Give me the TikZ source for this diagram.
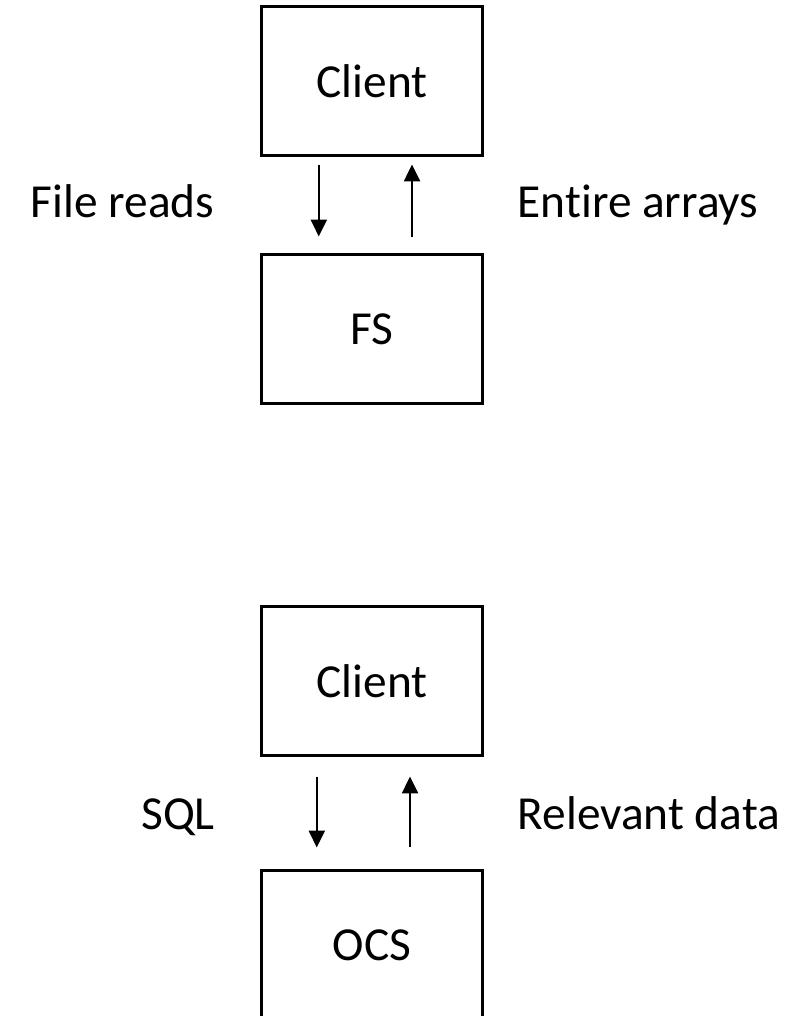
\documentclass[tikz,border=0pt]{standalone}
\usepackage{fontspec}
\setmainfont{Carlito}[Ligatures=NoCommon]
\usetikzlibrary{arrows.meta,positioning}
\tikzset{
  tierbox/.style={draw,line width=.075cm,minimum width=5.5cm,minimum height=3.7cm,
    font=\fontsize{33.7}{40}\selectfont},
  flowlabel/.style={anchor=base west,inner sep=0pt,font=\fontsize{33.7}{40}\selectfont},
  flow/.style={line width=.05cm,-{Triangle[length=.42cm,width=.4cm]}}
}

\begin{document}
\begin{tikzpicture}[x=.025cm,y=-.025cm]
    \useasboundingbox (0,0) rectangle (796,1016);
    % file system setup
    \node[tierbox] (clientA) at (372,81) {Client};
    \node[tierbox] (fsA) at (372,329) {FS};
    \draw[flow,shorten <=.2cm,shorten >=.425cm]
      ([xshift=-1.33cm]clientA.south) -- ([xshift=-1.33cm]fsA.north);
    \draw[flow,shorten <=.4cm,shorten >=.2cm]
      ([xshift=1cm]fsA.north) -- ([xshift=1cm]clientA.south);
    \node[flowlabel] (readsA) at (30.5,218) {File reads};
    \node[flowlabel] (replyA) at (517.5,218) {Entire arrays};
    % object store setup
    \node[tierbox] (clientB) at (372,681) {Client};
    \node[tierbox] (ocsB) at (372,945) {OCS};
    \draw[flow,shorten <=.5cm,shorten >=.55cm]
      ([xshift=-1.38cm]clientB.south) -- ([xshift=-1.38cm]ocsB.north);
    \draw[flow,shorten <=.55cm,shorten >=.5cm]
      ([xshift=.95cm]ocsB.north) -- ([xshift=.95cm]clientB.south);
    \node[flowlabel] (queryB) at (141,829) {SQL};
    \node[flowlabel] (replyB) at (517.5,829) {Relevant data};
  \end{tikzpicture}
\end{document}
